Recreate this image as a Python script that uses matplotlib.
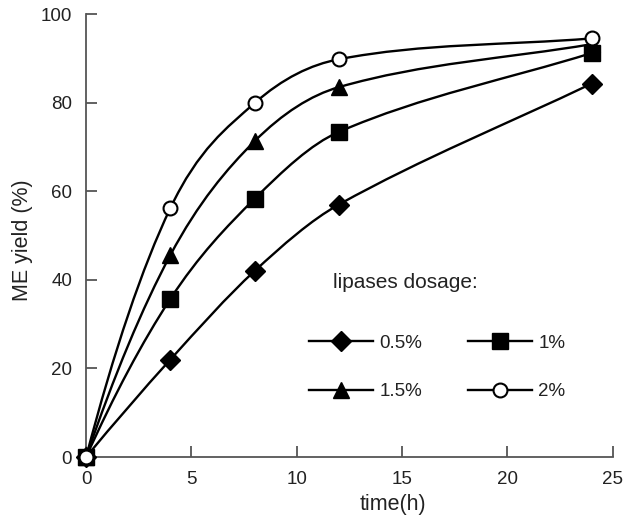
import numpy as np
import matplotlib.pyplot as plt
from matplotlib.path import Path
from matplotlib.patches import PathPatch
from matplotlib.lines import Line2D

plt.rcParams['font.family'] = ['Liberation Sans', 'DejaVu Sans']

# data
time_h = [0, 4, 8, 12, 24]
dosages = ['0.5%', '1%', '1.5%', '2%']
yield_05 = [0, 22, 42, 57, 84.3]
yield_1 = [0, 35.7, 58.3, 73.4, 91.2]
yield_15 = [0, 45.6, 71.3, 83.5, 93.2]
yield_2 = [0, 56.2, 79.9, 89.8, 94.5]

series = [yield_05, yield_1, yield_15, yield_2]
markers = ['D', 's', '^', 'o']
msizes = [10, 11, 11, 10]


def smooth_path(x, y):
    # cubic hermite curve through the points, drawn as bezier segments
    x = np.asarray(x, float)
    y = np.asarray(y, float)
    h = np.diff(x)
    d = np.diff(y) / h
    n = len(x)
    m = np.zeros(n)
    m[1:-1] = (y[2:] - y[:-2]) / (x[2:] - x[:-2])
    m[0] = ((2 * h[0] + h[1]) * d[0] - h[0] * d[1]) / (h[0] + h[1])
    m[-1] = d[-1]
    verts = [(x[0], y[0])]
    codes = [Path.MOVETO]
    for i in range(n - 1):
        dx = h[i] / 3.0
        verts += [(x[i] + dx, y[i] + m[i] * dx),
                  (x[i + 1] - dx, y[i + 1] - m[i + 1] * dx),
                  (x[i + 1], y[i + 1])]
        codes += [Path.CURVE4] * 3
    return Path(verts, codes)


fig = plt.figure(figsize=(6.24, 5.16), dpi=100)
ax = fig.add_axes([0.138, 0.1143, 0.844, 0.8585])

for ys, m, ms in zip(series, markers, msizes):
    ax.add_patch(PathPatch(smooth_path(time_h, ys), facecolor='none',
                           edgecolor='black', lw=1.7, zorder=2))
    if m == 'o':
        ax.plot(time_h, ys, ls='none', marker=m, ms=ms, mfc='white',
                mec='black', mew=1.5, zorder=3, clip_on=False)
    else:
        ax.plot(time_h, ys, ls='none', marker=m, ms=ms, color='black',
                zorder=3, clip_on=False)

ax.set_xlim(0, 25)
ax.set_ylim(0, 100)
ax.set_xticks([0, 5, 10, 15, 20, 25])
ax.set_yticks([0, 20, 40, 60, 80, 100])

for side in ['top', 'right']:
    ax.spines[side].set_visible(False)
for side in ['left', 'bottom']:
    ax.spines[side].set_color('#555555')
    ax.spines[side].set_linewidth(1.3)
ax.tick_params(direction='in', length=8, width=1.3, color='#555555',
               labelsize=13.5, pad=10, labelcolor='#222222')

ax.set_xlabel('time(h)', fontsize=15.5, color='#222222')
ax.xaxis.set_label_coords(0.583, -0.083)
ax.set_ylabel('ME yield (%)', fontsize=15.5, color='#222222')
ax.yaxis.set_label_coords(-0.10, 0.49)

handles = []
for lab, m, ms in zip(dosages, markers, msizes):
    if m == 'o':
        h = Line2D([], [], color='black', lw=1.7, marker=m, ms=ms,
                   mfc='white', mec='black', mew=1.5, label=lab)
    else:
        h = Line2D([], [], color='black', lw=1.7, marker=m, ms=ms, label=lab)
    handles.append(h)
# legend fills by column, reorder so rows read 0.5% 1% / 1.5% 2%
handles = [handles[0], handles[2], handles[1], handles[3]]

fig.text(333 / 624, 1 - 282 / 516, 'lipases dosage:', fontsize=15,
         color='#222222', va='center', ha='left')

leg = ax.legend(handles=handles, ncol=2, frameon=False, fontsize=13.5,
                handlelength=3.4, handletextpad=0.35, columnspacing=2.45,
                labelspacing=1.65, loc='upper left',
                bbox_to_anchor=(292 / 624, 1 - 318 / 516),
                bbox_transform=fig.transFigure)
for t in leg.get_texts():
    t.set_color('#222222')

fig.savefig('out.png', dpi=100)
